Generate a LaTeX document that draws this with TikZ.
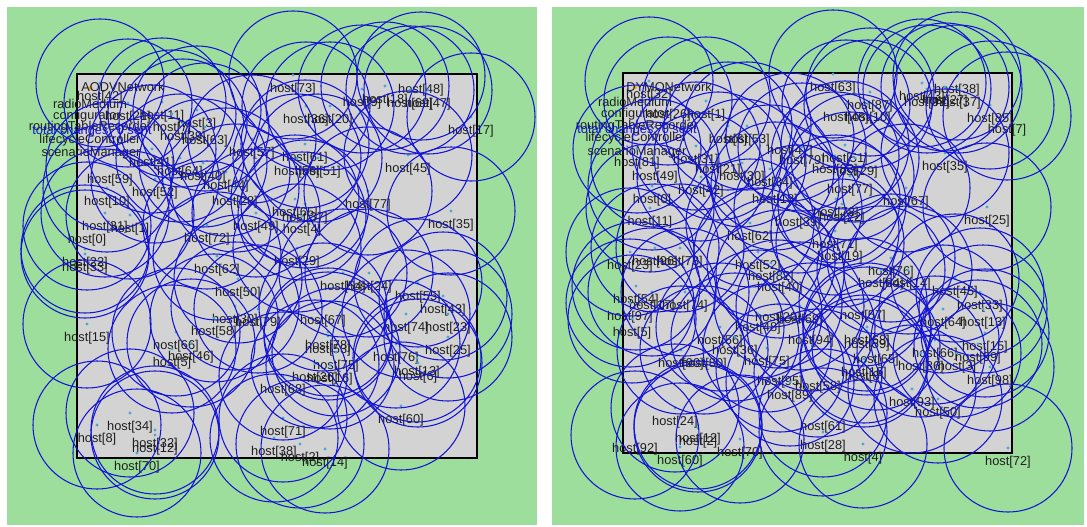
\documentclass[tikz,border=0pt]{standalone}
\usepackage{fontspec}
\setmainfont{Liberation Sans}
\usetikzlibrary{positioning}
\definecolor{playground}{RGB}{158,222,156}
\definecolor{areagray}{RGB}{211,211,211}
\definecolor{rangeblue}{RGB}{20,20,215}
\definecolor{hostcyan}{RGB}{70,170,215}
\definecolor{labelgray}{RGB}{30,30,30}
\definecolor{netorange}{RGB}{240,170,30}
\tikzset{
    % Playground and constraint area
    panel/.style={fill=playground, draw=none},
    area/.style={fill=areagray, draw=black, line width=1.6pt},
    % Host labels and module labels
    hostlabel/.style={font=\fontsize{12.8}{13}\selectfont, text=labelgray, inner sep=0pt},
    modlabel/.style={hostlabel},
    statlabel/.style={hostlabel, text=rangeblue},
    % Transmission range and host icon
    rangecircle/.style={draw=rangeblue, line width=1.05pt},
    hostdot/.style={fill=hostcyan},
    netdot/.style={fill=netorange},
}
% host label positions: x/y/index (label centre, icon 14 above)
\def\hostsAODV{100/97/42, 128/117/21, 162/116/11, 172/128/7, 197/124/3, 183/137/39,
  205/141/63, 252/153/57, 152/163/41, 110/180/59, 180/172/64, 203/177/40, 226/186/44,
  155/193/52, 107/202/10, 235/202/28, 105/227/31, 130/229/1, 87/240/0, 207/239/72,
  256/227/49, 85/263/22, 85/268/33, 217/270/62, 238/293/50, 235/320/30, 258/323/79,
  214/332/58, 87/338/15, 176/346/66, 191/357/46, 172/363/5, 130/427/34, 97/439/8,
  155/444/32, 155/449/12, 137/467/70, 297/262/29, 343/287/54, 369/287/24, 418/297/55,
  443/310/43, 323/321/67, 406/328/74, 448/328/23, 328/346/78, 328/350/53, 396/358/76,
  448/351/25, 336/366/75, 417/372/13, 418/377/6, 315/378/26, 330/379/16, 283/390/68,
  401/420/60, 283/432/71, 274/452/38, 300/458/2, 325/463/14, 293/89/73, 421/90/48,
  362/103/9, 385/100/18, 410/104/69, 428/104/47, 306/120/36, 330/120/20, 471/131/17,
  305/158/61, 297/172/56, 318/172/51, 408/169/45, 368/205/77, 451/225/35, 295/213/65,
  305/218/37, 302/230/4}
\def\hostsDYMO{649/95/32, 668/115/26, 706/115/1, 728/140/6, 747/140/53, 790/151/47,
  637/163/81, 696/160/31, 802/161/79, 845/159/51, 835/170/83, 855/172/29, 655/177/49,
  718/170/21, 742/177/30, 770/183/34, 701/191/42, 652/200/0, 775/200/18, 650/222/11,
  798/223/39, 750/237/62, 630/266/23, 655/262/96, 680/262/73, 758/266/52, 771/277/82,
  780/288/40, 636/300/54, 652/306/17, 685/306/74, 630/317/97, 632/333/5, 778/318/20,
  800/320/69, 758/328/48, 720/341/56, 811/341/94, 735/351/36, 681/364/90, 704/364/80,
  767/362/75, 780/382/95, 790/396/89, 675/422/24, 698/439/12, 698/442/2, 635/449/92,
  740/453/70, 680/461/60, 823/446/28, 833/88/63, 957/90/38, 922/97/43, 927/103/91,
  945/101/27, 958/103/37, 870/106/87, 846/118/46, 868/118/10, 990/119/85, 1007/130/7,
  945/167/35, 850/190/77, 906/202/67, 836/213/78, 842/218/22, 987/221/25, 835/245/71,
  840/257/19, 891/272/76, 881/284/84, 908/284/14, 955/292/45, 980/306/33, 863/316/57,
  943/323/64, 983/323/13, 867/341/68, 867/345/59, 985/347/15, 935/354/66, 978/358/99,
  876/360/65, 921/367/86, 957/367/3, 864/373/16, 864/377/8, 818/387/58, 990/381/98,
  912/403/93, 938/413/50, 823/427/61, 863/458/4, 1008/462/72}

\begin{document}
\begin{tikzpicture}[x=1pt,y=-1pt]
  \fill[white] (0,0) rectangle (1087,527);
  \useasboundingbox (0,0) rectangle (1087,527);
  % AODV playground
  \fill[panel] (7,7) rectangle (537,525);
  \draw[area] (77,74) rectangle (477,458);
  \fill[netdot] (90,88) circle (2);
  \node[modlabel] (aodvnet) at (123,87) {AODVNetwork};
  \node[modlabel] (aradio) at (90,104) {radioMedium};
  \node[modlabel] (aconf) at (87,116) {configurator};
  \node[modlabel] (arouting) at (90,127) {routingTableRecorder};
  \node[statlabel] (astat) at (92,131) {total changes: 0 sent};
  \node[modlabel] (alife) at (90,140) {lifecycleController};
  \node[modlabel] (ascen) at (91,153) {scenarioManager};
  \begin{scope}
    \clip (7,7) rectangle (537,525);
    \foreach \x/\y/\n in \hostsAODV {
      \node[hostlabel] (a\n) at (\x,\y) {host[\n]};
      \fill[hostdot] (\x,\y-14) circle (1.6);
    }
    \foreach \x/\y/\n in \hostsAODV {\draw[rangecircle] (\x,\y-14) circle (64);}
  \end{scope}
  % DYMO playground
  \fill[panel] (552,7) rectangle (1084,525);
  \draw[area] (623,73) rectangle (1012,453);
  \fill[netdot] (635,87) circle (2);
  \node[modlabel] (dymonet) at (669,87) {DYMONetwork};
  \node[modlabel] (dradio) at (635,102) {radioMedium};
  \node[modlabel] (dconf) at (635,114) {configurator};
  \node[modlabel] (drouting) at (637,126) {routingTableRecorder};
  \node[statlabel] (dstat) at (637,130) {total changes: 0 sent};
  \node[modlabel] (dlife) at (636,138) {lifecycleController};
  \node[modlabel] (dscen) at (637,152) {scenarioManager};
  \begin{scope}
    \clip (552,7) rectangle (1084,525);
    \foreach \x/\y/\n in \hostsDYMO {
      \node[hostlabel] (d\n) at (\x,\y) {host[\n]};
      \fill[hostdot] (\x,\y-14) circle (1.6);
    }
    \foreach \x/\y/\n in \hostsDYMO {\draw[rangecircle] (\x,\y-14) circle (64);}
  \end{scope}
\end{tikzpicture}
\end{document}
